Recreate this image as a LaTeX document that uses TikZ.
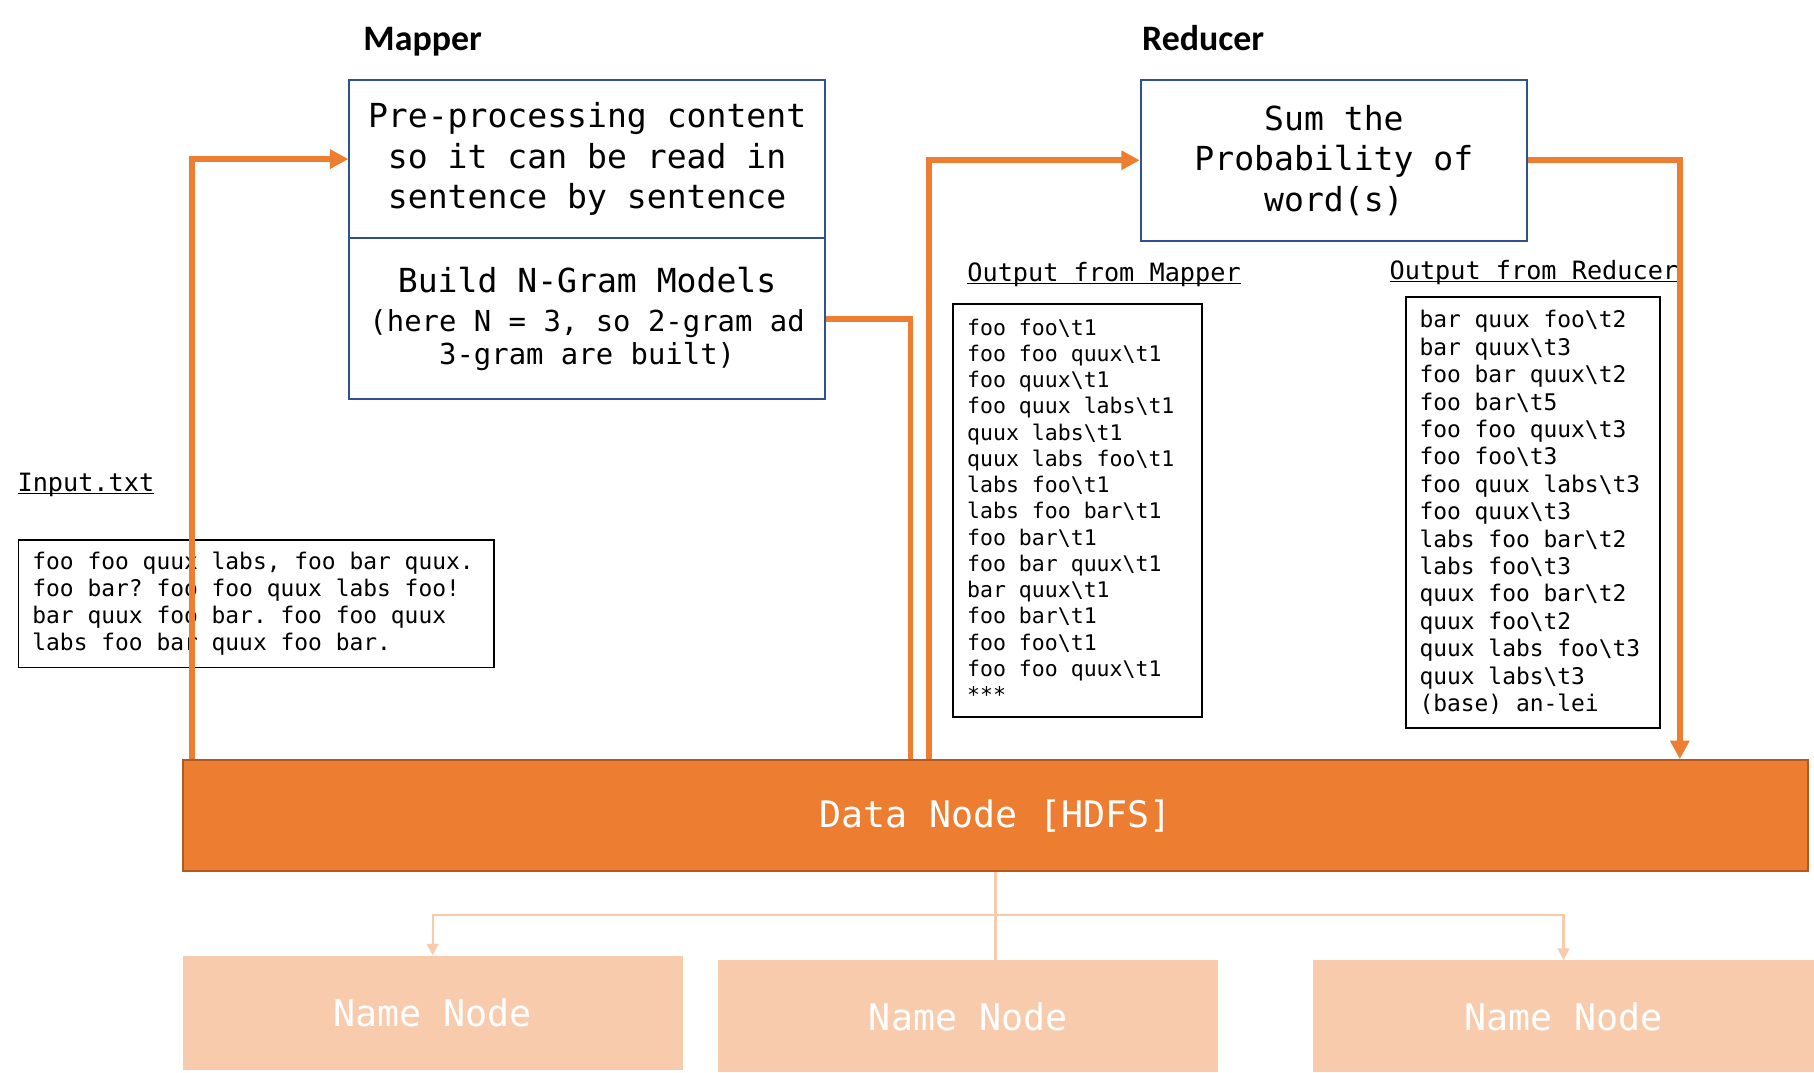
\documentclass[tikz,border=0pt]{standalone}
\usepackage{fontspec}
\setmonofont{DejaVu Sans Mono}
\newfontfamily\headfont{Carlito}
\usepackage{xcolor}
\usetikzlibrary{arrows.meta,positioning}
\definecolor{hdfsorange}{RGB}{237,125,49}
\definecolor{hdfsrim}{RGB}{174,90,33}
\definecolor{namepeach}{RGB}{248,203,173}
\definecolor{jobblue}{RGB}{47,82,143}
\newcommand{\tabcnt}[1]{\textbackslash t#1}
\newcommand{\ulined}[1]{\underline{\smash{#1}}}
\newcommand{\monospace}{\spaceskip=0.602em\xspaceskip=0.602em\relax}
\tikzset{
  jobbox/.style={draw=jobblue, line width=1.6pt, align=flush center, inner xsep=8pt, inner ysep=0pt, font=\ttfamily\fontsize{28.6}{35}\selectfont, execute at begin node=\monospace},
  listbox/.style 2 args={draw=black, line width=1.6pt, align=flush left, inner xsep=12pt, inner ysep=0pt, font=\ttfamily\fontsize{#1}{#2}\selectfont, execute at begin node=\monospace},
  listhead/.style={anchor=base west, inner sep=0pt, font=\ttfamily\fontsize{21.8}{24}\selectfont},
  roletitle/.style={anchor=base west, inner sep=0pt, font=\headfont\bfseries\fontsize{31}{36}\selectfont},
  hdfs/.style={draw=hdfsrim, fill=hdfsorange, line width=1.6pt, text=white, minimum width=1405pt, minimum height=96pt, font=\ttfamily\fontsize{31.6}{36}\selectfont},
  namebox/.style={fill=namepeach, text=white, minimum width=432pt, minimum height=97pt, font=\ttfamily\fontsize{31.7}{36}\selectfont},
  flow/.style={draw=hdfsorange, line width=5pt},
  flowtip/.style={flow, -{Triangle[length=16pt,width=16pt]}},
  branch/.style={draw=namepeach, line width=2pt},
  branchtip/.style={branch, -{Triangle[length=10pt,width=10pt]}}
}
\begin{document}
\begin{tikzpicture}[x=1pt,y=-1pt]
\fill[white] (0,0) rectangle (1568,927);
\useasboundingbox (0,0) rectangle (1568,927);

\node[roletitle] (mapperT) at (314,44) {Mapper};
\node[roletitle] (reducerT) at (987,43.7) {Reducer};

\node[jobbox, text width=395pt, minimum height=137pt] (prep) at (507.5,137.5) {Pre-processing content\\ so it can be read in\\ sentence by sentence};
\node[jobbox, text width=395pt, minimum height=139pt] (ngram) at (507.5,275.5) {Build N-Gram Models\\[-1pt]\parbox[t]{395pt}{\centering\fontsize{25}{28}\selectfont\monospace (here N = 3, so 2-gram ad\\ 3-gram are built)}};
\node[jobbox, text width=318pt, minimum height=139pt] (sumprob) at (1153,138.5) {Sum the\\ Probability of\\ word(s)};

\node[listhead] (mapOutT) at (836,243) {\ulined{Output from Mapper}};
\node[listhead] (redOutT) at (1201,242) {\ulined{Output from Reducer}};
\node[listhead] (inputT) at (15,425) {\ulined{Input.txt}};

\node[listbox={18.6}{22.7}, text width=191pt, minimum height=357pt] (mapOut) at (931.5,441.5) {foo foo\tabcnt1\\ foo foo quux\tabcnt1\\ foo quux\tabcnt1\\ foo quux labs\tabcnt1\\ quux labs\tabcnt1\\ quux labs foo\tabcnt1\\ labs foo\tabcnt1\\ labs foo bar\tabcnt1\\ foo bar\tabcnt1\\ foo bar quux\tabcnt1\\ bar quux\tabcnt1\\ foo bar\tabcnt1\\ foo foo\tabcnt1\\ foo foo quux\tabcnt1\\ {*}**};
\node[listbox={19.8}{23.7}, text width=196pt, minimum height=372pt] (redOut) at (1325,443) {bar quux foo\tabcnt2\\ bar quux\tabcnt3\\ foo bar quux\tabcnt2\\ foo bar\tabcnt5\\ foo foo quux\tabcnt3\\ foo foo\tabcnt3\\ foo quux labs\tabcnt3\\ foo quux\tabcnt3\\ labs foo bar\tabcnt2\\ labs foo\tabcnt3\\ quux foo bar\tabcnt2\\ quux foo\tabcnt2\\ quux labs foo\tabcnt3\\ quux labs\tabcnt3\\ (base) an-lei};
\node[listbox={19.8}{23.3}, text width=387pt, minimum height=110pt] (inputTxt) at (221.5,522) {foo foo quux labs, foo bar quux.\\ foo bar? foo foo quux labs foo!\\ bar quux foo bar. foo foo quux\\ labs foo bar quux foo bar.};

\node[hdfs] (data) at (860.5,705) {Data Node [HDFS]};
\node[namebox, minimum height=99pt] (name1) at (374,875.5) {Name Node};
\node[namebox] (name2) at (837,878.5) {Name Node};
\node[namebox, minimum width=433pt] (name3) at (1351.5,878.5) {Name Node};

\coordinate (prepFeed) at (166,0);
\coordinate (ngramDrop) at (787,0);
\coordinate (sumFeed) at (803,0);
\coordinate (sumDrop) at (1452,0);
\coordinate (split) at ([yshift=-37pt]data.south);

\draw[flowtip] (data.north -| prepFeed) |- (prep.west);
\draw[flow] (ngram.east) -| (data.north -| ngramDrop);
\draw[flowtip] (data.north -| sumFeed) |- (sumprob.west);
\draw[flowtip] (sumprob.east) -| (data.north -| sumDrop);

\draw[branch] (data.south) -- (data.south |- name2.north);
\draw[branchtip] (split) -| (name1.north);
\draw[branchtip] (split) -| (name3.north);
\end{tikzpicture}
\end{document}
